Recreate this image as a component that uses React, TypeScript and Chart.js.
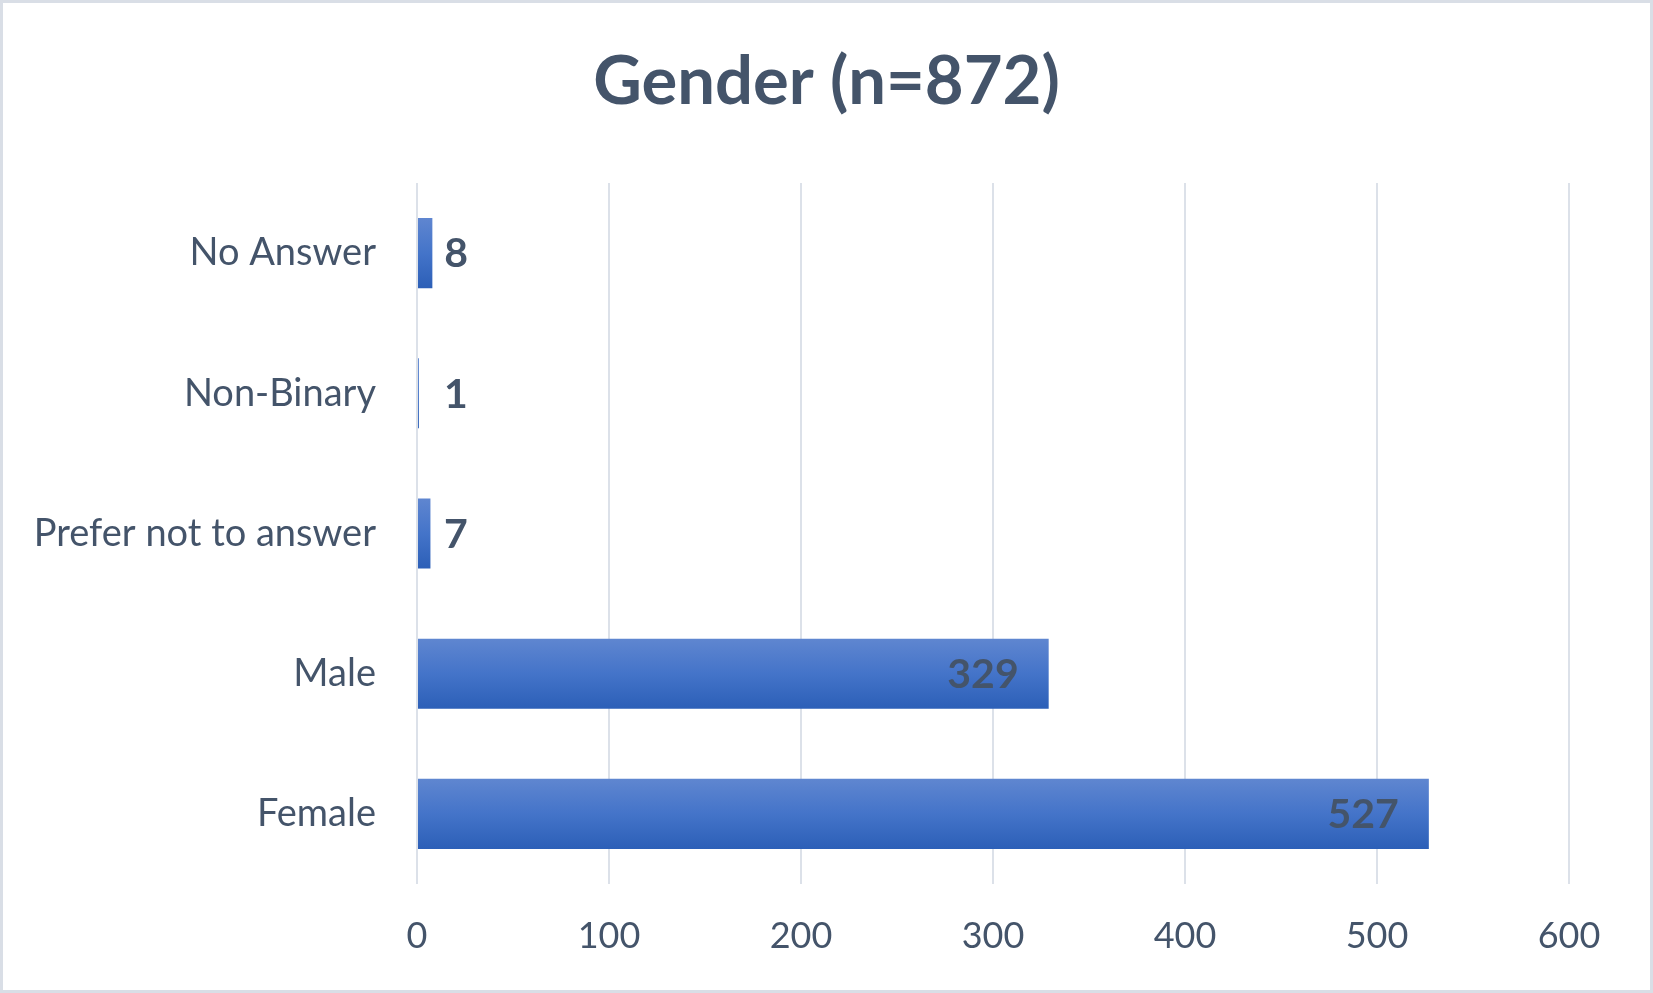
import React, { useEffect, useRef } from "react";
import { Chart, registerables } from "chart.js";

Chart.register(...registerables);

const categories = ["No Answer", "Non-Binary", "Prefer not to answer", "Male", "Female"];
const counts = [8, 1, 7, 329, 527];
const xTickValues = [0, 100, 200, 300, 400, 500, 600];
const titleText = "Gender (n=872)";

const TEXT_COLOR = "#44546a";
const GRID_COLOR = "#dce1e9";
const FONT = "Lato";

const W = 1653;
const H = 993;
const PLOT_LEFT = 417;
const PLOT_TOP = 183;
const PLOT_RIGHT = 1569;
const PLOT_BOTTOM = 884;

const frame = {
  id: "frame",
  beforeDraw(chart: any) {
    const ctx = chart.ctx;
    ctx.save();
    ctx.fillStyle = "#ffffff";
    ctx.fillRect(0, 0, chart.width, chart.height);
    ctx.restore();
  },
  afterDraw(chart: any) {
    const ctx = chart.ctx;
    ctx.save();
    ctx.strokeStyle = "#d9dee6";
    ctx.lineWidth = 3;
    ctx.strokeRect(1.5, 1.5, chart.width - 3, chart.height - 3);
    // title, centred on the whole frame
    ctx.font = `bold 67px ${FONT}`;
    ctx.fillStyle = TEXT_COLOR;
    ctx.textAlign = "center";
    ctx.textBaseline = "middle";
    ctx.fillText(titleText, chart.width / 2, 82);
    ctx.restore();
  },
};

const valueLabels = {
  id: "valueLabels",
  afterDatasetsDraw(chart: any) {
    const ctx = chart.ctx;
    const meta = chart.getDatasetMeta(0);
    ctx.save();
    ctx.font = `bold 41px ${FONT}`;
    ctx.fillStyle = TEXT_COLOR;
    ctx.textBaseline = "middle";
    meta.data.forEach((bar: any, i: number) => {
      const text = String(counts[i]);
      const w = ctx.measureText(text).width;
      const { x, y, base } = bar.getProps(["x", "y", "base"], true);
      if (x - base > w + 60) {
        ctx.textAlign = "right";
        ctx.fillText(text, x - 30, y + 1);
      } else {
        ctx.textAlign = "left";
        ctx.fillText(text, Math.max(x, base + 14) + 12, y + 1);
      }
    });
    ctx.restore();
  },
};

export default function App() {
  const canvasRef = useRef<HTMLCanvasElement | null>(null);

  useEffect(() => {
    document.body.style.margin = "0";
    const canvas = canvasRef.current;
    if (!canvas) return;

    const chart = new Chart(canvas, {
      type: "bar",
      data: {
        labels: categories,
        datasets: [
          {
            data: counts,
            backgroundColor: (c: any) => {
              const ch = c.chart;
              const ys = ch.scales?.y;
              if (!ch.chartArea || !ys || c.dataIndex === undefined) return "#4472c4";
              const yc = ys.getPixelForValue(c.dataIndex);
              const band = (ch.chartArea.bottom - ch.chartArea.top) / categories.length;
              const half = band * 0.25;
              const g = ch.ctx.createLinearGradient(0, yc - half, 0, yc + half);
              g.addColorStop(0, "#5f86d0");
              g.addColorStop(0.5, "#4474c9");
              g.addColorStop(1, "#2c5fb7");
              return g;
            },
            borderWidth: 0,
            barPercentage: 0.5,
            categoryPercentage: 1,
          },
        ],
      },
      options: {
        indexAxis: "y",
        responsive: false,
        animation: false,
        layout: { padding: { left: 0, right: W - PLOT_RIGHT, top: PLOT_TOP, bottom: 0 } },
        plugins: {
          legend: { display: false },
          tooltip: { enabled: false },
          title: { display: false },
        },
        scales: {
          x: {
            type: "linear",
            min: 0,
            max: 600,
            afterBuildTicks: (scale: any) => {
              scale.ticks = xTickValues.map((v) => ({ value: v }));
            },
            afterFit: (scale: any) => {
              scale.height = H - PLOT_BOTTOM;
            },
            grid: { color: GRID_COLOR, lineWidth: 2, drawTicks: false },
            border: { display: false },
            ticks: {
              color: TEXT_COLOR,
              font: { family: FONT, size: 36 },
              padding: 31,
            },
          },
          y: {
            type: "category",
            afterFit: (scale: any) => {
              scale.width = PLOT_LEFT;
            },
            grid: { display: false, drawTicks: false },
            border: { display: false },
            ticks: {
              color: TEXT_COLOR,
              font: { family: FONT, size: 38 },
              padding: 41,
            },
          },
        },
      },
      plugins: [frame, valueLabels],
    } as any);

    let alive = true;
    if ((document as any).fonts?.load) {
      Promise.all([
        (document as any).fonts.load(`bold 67px ${FONT}`),
        (document as any).fonts.load(`36px ${FONT}`),
      ]).then(() => {
        if (alive) chart.update();
      }).catch(() => {});
    }

    return () => {
      alive = false;
      chart.destroy();
    };
  }, []);

  return (
    <div style={{ width: W, height: H }}>
      <canvas ref={canvasRef} width={W} height={H} style={{ display: "block" }} />
    </div>
  );
}
